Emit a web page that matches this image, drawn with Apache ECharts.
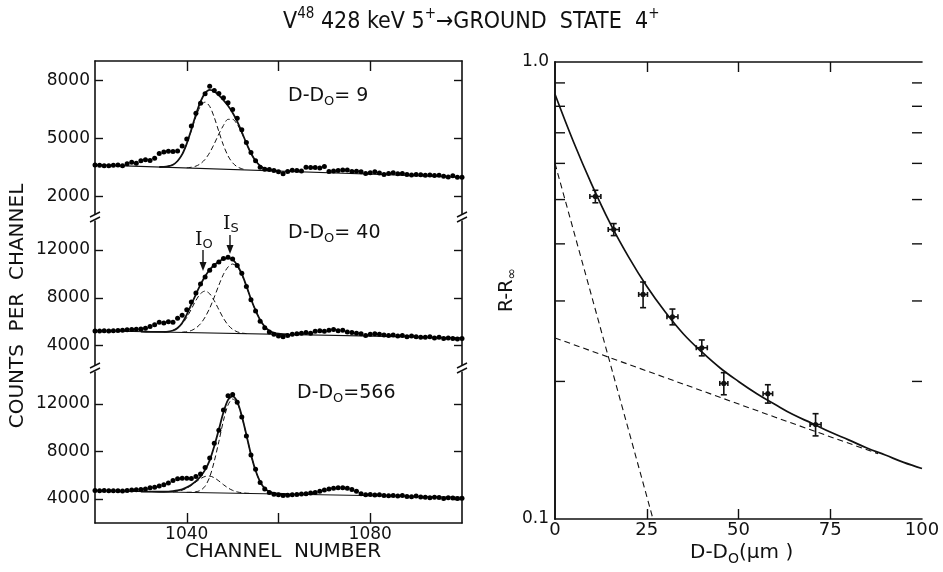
<!DOCTYPE html>
<html>
<head>
<meta charset="utf-8">
<script src="https://cdn.jsdelivr.net/npm/echarts@6/dist/echarts.min.js"></script>
<style>
  html, body { margin: 0; padding: 0; background: #fff; }
  #chart { width: 943px; height: 572px; }
</style>
</head>
<body>
<div id="chart"></div>
<script>
// ---- left: gamma spectra, one point per channel ----
var channels = [
  1020, 1021, 1022, 1023, 1024, 1025, 1026, 1027, 1028, 1029,
  1030, 1031, 1032, 1033, 1034, 1035, 1036, 1037, 1038, 1039,
  1040, 1041, 1042, 1043, 1044, 1045, 1046, 1047, 1048, 1049,
  1050, 1051, 1052, 1053, 1054, 1055, 1056, 1057, 1058, 1059,
  1060, 1061, 1062, 1063, 1064, 1065, 1066, 1067, 1068, 1069,
  1070, 1071, 1072, 1073, 1074, 1075, 1076, 1077, 1078, 1079,
  1080, 1081, 1082, 1083, 1084, 1085, 1086, 1087, 1088, 1089,
  1090, 1091, 1092, 1093, 1094, 1095, 1096, 1097, 1098, 1099,
  1100
];
var counts9 = [
  3640, 3620, 3590, 3600, 3620, 3640, 3600, 3700, 3780, 3730,
  3850, 3900, 3870, 3980, 4230, 4300, 4340, 4330, 4360, 4620,
  4980, 5650, 6300, 6820, 7310, 7700, 7480, 7320, 7100, 6850,
  6500, 6050, 5450, 4800, 4280, 3850, 3520, 3420, 3400, 3350,
  3280, 3180, 3300, 3360, 3350, 3330, 3520, 3500, 3500, 3480,
  3560, 3300, 3330, 3350, 3380, 3370, 3300, 3310, 3280, 3200,
  3230, 3280, 3220, 3150, 3200, 3230, 3180, 3200, 3150, 3120,
  3150, 3130, 3100, 3120, 3090, 3100, 3060, 3020, 3080, 3000,
  3000
];
var counts40 = [
  5230, 5220, 5240, 5220, 5250, 5280, 5300, 5330, 5350, 5380,
  5400, 5460, 5600, 5750, 5950, 5900, 6000, 5950, 6300, 6550,
  7000, 7650, 8400, 9150, 9750, 10300, 10700, 11000, 11300, 11400,
  11250, 10700, 10050, 8950, 7850, 6900, 6050, 5500, 5150, 4950,
  4800, 4750, 4850, 4950, 5000, 5050, 5100, 5050, 5200, 5250,
  5200, 5300, 5350, 5250, 5300, 5150, 5100, 5050, 5000, 4850,
  4950, 5000, 4950, 4900, 4850, 4900, 4800, 4850, 4750, 4800,
  4750, 4700, 4700, 4750, 4650, 4700, 4600, 4650, 4600, 4550,
  4600
];
var counts566 = [
  4720, 4700, 4720, 4700, 4690, 4700, 4680, 4720, 4750, 4780,
  4800, 4850, 4950, 5000, 5100, 5200, 5350, 5550, 5700, 5750,
  5750, 5720, 5900, 6100, 6650, 7450, 8700, 9800, 11500, 12700,
  12800, 12150, 10900, 9300, 7700, 6500, 5400, 4850, 4550, 4400,
  4350, 4300, 4320, 4350, 4380, 4420, 4450, 4500, 4550, 4650,
  4750, 4850, 4900, 4950, 4950, 4900, 4800, 4650, 4450, 4350,
  4380, 4330, 4350, 4300, 4280, 4300, 4250, 4300, 4220, 4200,
  4250, 4180, 4150, 4100, 4150, 4120, 4050, 4100, 4080, 4050,
  4060
];

// fitted curves: [channel, counts]
var fit9 = [[1034,3530],[1035,3535],[1036,3570],[1037,3650],[1038,3840],[1039,4180],[1040,4740],
  [1041,5460],[1042,6240],[1043,6900],[1044,7340],[1045,7510],[1046,7430],[1047,7230],[1048,6980],
  [1049,6690],[1050,6330],[1051,5880],[1052,5330],[1053,4760],[1054,4240],[1055,3850],[1056,3590],
  [1057,3450],[1058,3385],[1059,3355],[1060,3330]];
var peakA9 = [[1036,3570],[1037,3654],[1038,3842],[1039,4184],[1040,4716],[1041,5404],[1042,6122],
  [1043,6674],[1044,6878],[1045,6658],[1046,6090],[1047,5356],[1048,4652],[1049,4104],[1050,3746],
  [1051,3542],[1052,3442],[1053,3396]];
var peakB9 = [[1040,3490],[1041,3518],[1042,3577],[1043,3702],[1044,3926],[1045,4272],[1046,4728],
  [1047,5234],[1048,5675],[1049,5990],[1050,5990],[1051,5730],[1052,5280],[1053,4745],[1054,4240],
  [1055,3850],[1056,3590],[1057,3450],[1058,3385],[1059,3355],[1060,3330]];
var base9 = [[1020,3640],[1100,3000]];

var fit40 = [[1030,5175],[1032,5160],[1034,5150],[1035,5150],[1036,5180],[1037,5270],[1038,5480],
  [1039,5900],[1040,6600],[1041,7450],[1042,8300],[1043,9100],[1044,9800],[1045,10350],[1046,10750],
  [1047,11050],[1048,11250],[1049,11330],[1050,11200],[1051,10750],[1052,10000],[1053,9000],
  [1054,7900],[1055,6950],[1056,6150],[1057,5600],[1058,5250],[1059,5080],[1060,5000],[1061,4960],
  [1062,4940]];
var peakA40 = [[1035,5145],[1036,5190],[1037,5280],[1038,5470],[1039,5820],[1040,6360],[1041,7060],
  [1042,7790],[1043,8350],[1044,8570],[1045,8340],[1046,7760],[1047,7010],[1048,6290],[1049,5730],
  [1050,5370],[1051,5160],[1052,5060],[1053,5010]];
var peakB40 = [[1039,5130],[1040,5170],[1041,5270],[1042,5480],[1043,5830],[1044,6390],[1045,7130],
  [1046,8060],[1047,9060],[1048,9970],[1049,10580],[1050,10830],[1051,10600],[1052,9930],[1053,8980],
  [1054,7890],[1055,6940],[1056,6140],[1057,5590],[1058,5245],[1059,5075],[1060,4995],[1061,4955],
  [1062,4935]];
var base40 = [[1020,5250],[1100,4650]];

var fit566 = [[1030,4635],[1032,4620],[1034,4610],[1036,4625],[1037,4660],[1038,4720],[1039,4820],
  [1040,4980],[1041,5200],[1042,5500],[1043,5900],[1044,6450],[1045,7250],[1046,8450],[1047,9850],
  [1048,11300],[1049,12350],[1050,12650],[1051,12200],[1052,11000],[1053,9400],[1054,7750],
  [1055,6400],[1056,5450],[1057,4900],[1058,4620],[1059,4500],[1060,4450],[1062,4420]];
var peakA566 = [[1037,4600],[1038,4656],[1039,4747],[1040,4906],[1041,5144],[1042,5434],[1043,5714],
  [1044,5900],[1045,5930],[1046,5787],[1047,5521],[1048,5210],[1049,4933],[1050,4728],[1051,4598],
  [1052,4526],[1053,4489],[1054,4475]];
var peakB566 = [[1040,4565],[1041,4575],[1042,4610],[1043,4730],[1044,5080],[1045,5850],[1046,7180],
  [1047,8840],[1048,10600],[1049,11920],[1050,12420],[1051,12090],[1052,10950],[1053,9380],
  [1054,7740],[1055,6395],[1056,5448],[1057,4898],[1058,4618],[1059,4498],[1060,4448],[1062,4420]];
var base566 = [[1020,4700],[1100,4150]];

var yTicks9 = [2000, 5000, 8000];
var yTicksBig = [4000, 8000, 12000];
var xTicks = [1040, 1060, 1080];
var xLabels = [1040, 1080];

// ---- right: R - R_inf versus D - D0 ----
var dist = [11, 16, 24, 32, 40, 46, 58, 71];
var ratio = [0.508, 0.43, 0.31, 0.277, 0.237, 0.198, 0.188, 0.161];
var distErr = [1.5, 1.5, 1.2, 1.5, 1.5, 1.1, 1.3, 1.5];
var ratioErr = [0.016, 0.013, 0.02, 0.011, 0.0095, 0.011, 0.0087, 0.009];
var fitSum = [[0,0.85],[5,0.67],[10,0.54],[15,0.444],[20,0.375],[25,0.323],[30,0.284],[35,0.254],
  [40,0.232],[45,0.214],[50,0.2],[55,0.188],[60,0.178],[65,0.169],[70,0.162],[75,0.155],[80,0.149],
  [85,0.143],[90,0.138],[95,0.133],[100,0.129]];
var fitFast = [[0,0.6],[10,0.307],[20,0.157],[26.7,0.1]];
var fitSlow = [[0,0.249],[30,0.204],[60,0.167],[88,0.139]];
var logTicks = [0.2, 0.3, 0.4, 0.5, 0.6, 0.7, 0.8, 0.9];

var FONT = 'DejaVu Sans';
var INK = '#111';

function pairs(xs, ys) {
  return xs.map(function (x, i) { return [x, ys[i]]; });
}

var chart = echarts.init(document.getElementById('chart'));

var axisLine = { show: true, lineStyle: { color: INK, width: 1.6 } };
var labelStyle = { fontFamily: FONT, fontSize: 17, color: INK };

function leftY(idx, min, max, ticks, side) {
  return {
    type: 'value', gridIndex: idx, position: side, min: min, max: max,
    axisLine: axisLine,
    axisTick: { show: true, inside: true, length: 8, customValues: ticks, lineStyle: { color: INK, width: 1.4 } },
    axisLabel: side === 'left'
      ? Object.assign({ show: true, margin: 5, customValues: ticks, formatter: function (v) { return String(v); } }, labelStyle)
      : { show: false },
    splitLine: { show: false }
  };
}

var spectra = [
  { counts: counts9, total: fit9, a: peakA9, b: peakB9, base: base9 },
  { counts: counts40, total: fit40, a: peakA40, b: peakB40, base: base40 },
  { counts: counts566, total: fit566, a: peakA566, b: peakB566, base: base566 }
];

var series = [];
spectra.forEach(function (s, i) {
  var common = { xAxisIndex: i, yAxisIndex: 2 * i, showSymbol: false, symbol: 'none', silent: true };
  series.push(Object.assign({ type: 'line', data: s.base, lineStyle: { color: INK, width: 1.1 } }, common));
  series.push(Object.assign({ type: 'line', data: s.a, smooth: 0.3, lineStyle: { color: INK, width: 1, type: [5, 3] } }, common));
  series.push(Object.assign({ type: 'line', data: s.b, smooth: 0.3, lineStyle: { color: INK, width: 1, type: [5, 3] } }, common));
  series.push(Object.assign({ type: 'line', data: s.total, smooth: 0.3, lineStyle: { color: INK, width: 1.8 } }, common));
  series.push({
    type: 'scatter', xAxisIndex: i, yAxisIndex: 2 * i, silent: true,
    data: pairs(channels, s.counts), symbolSize: 5, itemStyle: { color: '#000', opacity: 1 }, z: 5
  });
});

// right panel
series.push({
  type: 'line', xAxisIndex: 3, yAxisIndex: 6, data: fitFast, symbol: 'none', silent: true,
  lineStyle: { color: INK, width: 1.1, type: [6, 4] }
});
series.push({
  type: 'line', xAxisIndex: 3, yAxisIndex: 6, data: fitSlow, symbol: 'none', silent: true,
  lineStyle: { color: INK, width: 1.1, type: [6, 4] }
});
series.push({
  type: 'line', xAxisIndex: 3, yAxisIndex: 6, data: fitSum, symbol: 'none', smooth: 0.4, silent: true,
  lineStyle: { color: INK, width: 1.7 }
});
series.push({
  type: 'custom', xAxisIndex: 3, yAxisIndex: 6, silent: true, z: 6,
  data: dist.map(function (x, i) { return [x, ratio[i], distErr[i], ratioErr[i]]; }),
  encode: { x: 0, y: 1 },
  renderItem: function (params, api) {
    var x = api.value(0), y = api.value(1), ex = api.value(2), ey = api.value(3);
    var c = api.coord([x, y]);
    var l = api.coord([x - ex, y]), r = api.coord([x + ex, y]);
    var t = api.coord([x, y + ey]), b = api.coord([x, y - ey]);
    var st = { stroke: INK, lineWidth: 1.6 };
    return {
      type: 'group',
      children: [
        { type: 'line', shape: { x1: l[0], y1: c[1], x2: r[0], y2: c[1] }, style: st },
        { type: 'line', shape: { x1: c[0], y1: t[1], x2: c[0], y2: b[1] }, style: st },
        { type: 'line', shape: { x1: l[0], y1: c[1] - 2.5, x2: l[0], y2: c[1] + 2.5 }, style: st },
        { type: 'line', shape: { x1: r[0], y1: c[1] - 2.5, x2: r[0], y2: c[1] + 2.5 }, style: st },
        { type: 'line', shape: { x1: c[0] - 3, y1: t[1], x2: c[0] + 3, y2: t[1] }, style: st },
        { type: 'line', shape: { x1: c[0] - 3, y1: b[1], x2: c[0] + 3, y2: b[1] }, style: st },
        { type: 'circle', shape: { cx: c[0], cy: c[1], r: 2.6 }, style: { fill: INK } }
      ]
    };
  }
});
// minor ticks of the log axis, both sides
series.push({
  type: 'custom', xAxisIndex: 3, yAxisIndex: 6, silent: true, clip: false,
  data: logTicks.map(function (v) { return [0, v]; }),
  encode: { x: 0, y: 1 },
  renderItem: function (params, api) {
    var v = api.value(1);
    var p = api.coord([0, v]), q = api.coord([100, v]);
    var st = { stroke: INK, lineWidth: 1.4 };
    return {
      type: 'group',
      children: [
        { type: 'line', shape: { x1: p[0], y1: p[1], x2: p[0] + 10, y2: p[1] }, style: st },
        { type: 'line', shape: { x1: q[0], y1: q[1], x2: q[0] - 10, y2: q[1] }, style: st }
      ]
    };
  }
});

// break marks on the stacked left axes
function breakMark(x, y) {
  return [
    { type: 'rect', shape: { x: x - 2.5, y: y - 3.5, width: 5, height: 6 }, style: { fill: '#fff' }, z: 100 },
    { type: 'line', shape: { x1: x - 5, y1: y - 1, x2: x + 5, y2: y - 6 }, style: { stroke: INK, lineWidth: 1.4 }, z: 101 },
    { type: 'line', shape: { x1: x - 5, y1: y + 4, x2: x + 5, y2: y - 1 }, style: { stroke: INK, lineWidth: 1.4 }, z: 101 }
  ];
}

function richText(x, y, text, rich, extra) {
  return Object.assign({
    type: 'text', x: x, y: y, z: 50,
    style: { text: text, rich: rich, fill: INK, align: 'left', verticalAlign: 'middle' }
  }, extra || {});
}

var ddRich = {
  m: { fontFamily: FONT, fontSize: 19, lineHeight: 24, fill: INK },
  s: { fontFamily: FONT, fontSize: 13, lineHeight: 24, verticalAlign: 'bottom', fill: INK }
};
var rRich = {
  m: { fontFamily: FONT, fontSize: 19, lineHeight: 24, fill: INK },
  s: { fontFamily: FONT, fontSize: 14, lineHeight: 24, verticalAlign: 'bottom', fill: INK }
};
var titleFont = 'Liberation Sans Narrow, DejaVu Sans Condensed, Liberation Sans';

var graphic = [].concat(
  breakMark(95, 218), breakMark(462, 218), breakMark(95, 369), breakMark(462, 369),
  [
    richText(283, 22, '{m|V}{s|48}{m| 428 keV 5}{s|+}{m|\u2192GROUND  STATE  4}{s|+}', {
      m: { fontFamily: titleFont, fontSize: 23, lineHeight: 30, fill: INK },
      s: { fontFamily: titleFont, fontSize: 15, lineHeight: 30, verticalAlign: 'top', fill: INK }
    }),
    richText(288, 96, '{m|D-D}{s|O}{m|= 9}', ddRich),
    richText(288, 233, '{m|D-D}{s|O}{m|= 40}', ddRich),
    richText(297, 393, '{m|D-D}{s|O}{m|=566}', ddRich),
    richText(195, 240, '{i|I}{s|O}', {
      i: { fontFamily: 'DejaVu Serif', fontSize: 19, lineHeight: 22, fill: INK },
      s: { fontFamily: FONT, fontSize: 13, lineHeight: 22, verticalAlign: 'bottom', fill: INK }
    }),
    richText(223, 224, '{i|I}{s|S}', {
      i: { fontFamily: 'DejaVu Serif', fontSize: 19, lineHeight: 22, fill: INK },
      s: { fontFamily: FONT, fontSize: 13, lineHeight: 22, verticalAlign: 'bottom', fill: INK }
    }),
    { type: 'line', shape: { x1: 203, y1: 250, x2: 203, y2: 264 }, style: { stroke: INK, lineWidth: 1.4 } },
    { type: 'polygon', shape: { points: [[199.5, 262], [206.5, 262], [203, 271]] }, style: { fill: INK } },
    { type: 'line', shape: { x1: 230, y1: 235, x2: 230, y2: 247 }, style: { stroke: INK, lineWidth: 1.4 } },
    { type: 'polygon', shape: { points: [[226.5, 245], [233.5, 245], [230, 254]] }, style: { fill: INK } },
    {
      type: 'text', x: 18, y: 306, rotation: Math.PI / 2,
      style: { text: 'COUNTS  PER  CHANNEL', fontFamily: FONT, fontSize: 20, fill: INK, align: 'center', verticalAlign: 'middle' }
    },
    {
      type: 'text', x: 283, y: 552,
      style: { text: 'CHANNEL  NUMBER', fontFamily: FONT, fontSize: 20, fill: INK, align: 'center', verticalAlign: 'middle' }
    },
    {
      type: 'text', x: 507, y: 290, rotation: Math.PI / 2, z: 50,
      style: { text: '{m|R-R}{s|\u221E}', rich: rRich, fill: INK, align: 'center', verticalAlign: 'middle' }
    },
    richText(690, 553, '{m|D-D}{s|O}{m|(\u03BCm )}', {
      m: { fontFamily: FONT, fontSize: 20, lineHeight: 26, fill: INK },
      s: { fontFamily: FONT, fontSize: 14, lineHeight: 26, verticalAlign: 'bottom', fill: INK }
    })
  ]
);

var option = {
  animation: false,
  backgroundColor: '#fff',
  grid: [
    { left: 95, top: 61, width: 367, height: 157, outerBoundsMode: 'none' },
    { left: 95, top: 218, width: 367, height: 151, outerBoundsMode: 'none' },
    { left: 95, top: 369, width: 367, height: 154, outerBoundsMode: 'none' },
    { left: 555, top: 62, width: 367, height: 457, outerBoundsMode: 'none' }
  ],
  xAxis: [
    { type: 'value', gridIndex: 0, position: 'top', min: 1020, max: 1100, interval: 20,
      axisLine: axisLine, splitLine: { show: false }, axisLabel: { show: false },
      axisTick: { show: true, inside: true, length: 10, customValues: xTicks, lineStyle: { color: INK, width: 1.4 } } },
    { type: 'value', gridIndex: 1, min: 1020, max: 1100, show: false },
    { type: 'value', gridIndex: 2, position: 'bottom', min: 1020, max: 1100, interval: 20,
      axisLine: axisLine, splitLine: { show: false },
      axisLabel: Object.assign({ margin: 3, customValues: xLabels, formatter: function (v) { return String(v); } }, labelStyle),
      axisTick: { show: true, inside: true, length: 10, customValues: xTicks, lineStyle: { color: INK, width: 1.4 } } },
    { type: 'value', gridIndex: 3, position: 'bottom', min: 0, max: 100, interval: 25,
      axisLine: axisLine, splitLine: { show: false },
      axisLabel: Object.assign({ margin: 2, showMinLabel: true, showMaxLabel: true }, labelStyle, { fontSize: 18 }),
      axisTick: { show: true, inside: true, length: 10, customValues: [25, 50, 75], lineStyle: { color: INK, width: 1.4 } } },
    { type: 'value', gridIndex: 3, position: 'top', min: 0, max: 100, interval: 25,
      axisLine: axisLine, splitLine: { show: false }, axisLabel: { show: false },
      axisTick: { show: true, inside: true, length: 10, customValues: [25, 50, 75], lineStyle: { color: INK, width: 1.4 } } }
  ],
  yAxis: [
    leftY(0, 900, 9000, yTicks9, 'left'),
    leftY(0, 900, 9000, yTicks9, 'right'),
    leftY(1, 2050, 14680, yTicksBig, 'left'),
    leftY(1, 2050, 14680, yTicksBig, 'right'),
    leftY(2, 1980, 14950, yTicksBig, 'left'),
    leftY(2, 1980, 14950, yTicksBig, 'right'),
    { type: 'log', gridIndex: 3, position: 'left', min: 0.1, max: 1, logBase: 10,
      axisLine: axisLine, axisTick: { show: false }, splitLine: { show: false }, minorTick: { show: false },
      axisLabel: Object.assign({ margin: 6, formatter: function (v) { return v > 0.5 ? '1.0' : '0.1'; } }, labelStyle) },
    { type: 'log', gridIndex: 3, position: 'right', min: 0.1, max: 1, logBase: 10,
      axisLine: axisLine, axisTick: { show: false }, splitLine: { show: false }, axisLabel: { show: false } }
  ],
  graphic: graphic,
  series: series
};

chart.setOption(option);
</script>
</body>
</html>
